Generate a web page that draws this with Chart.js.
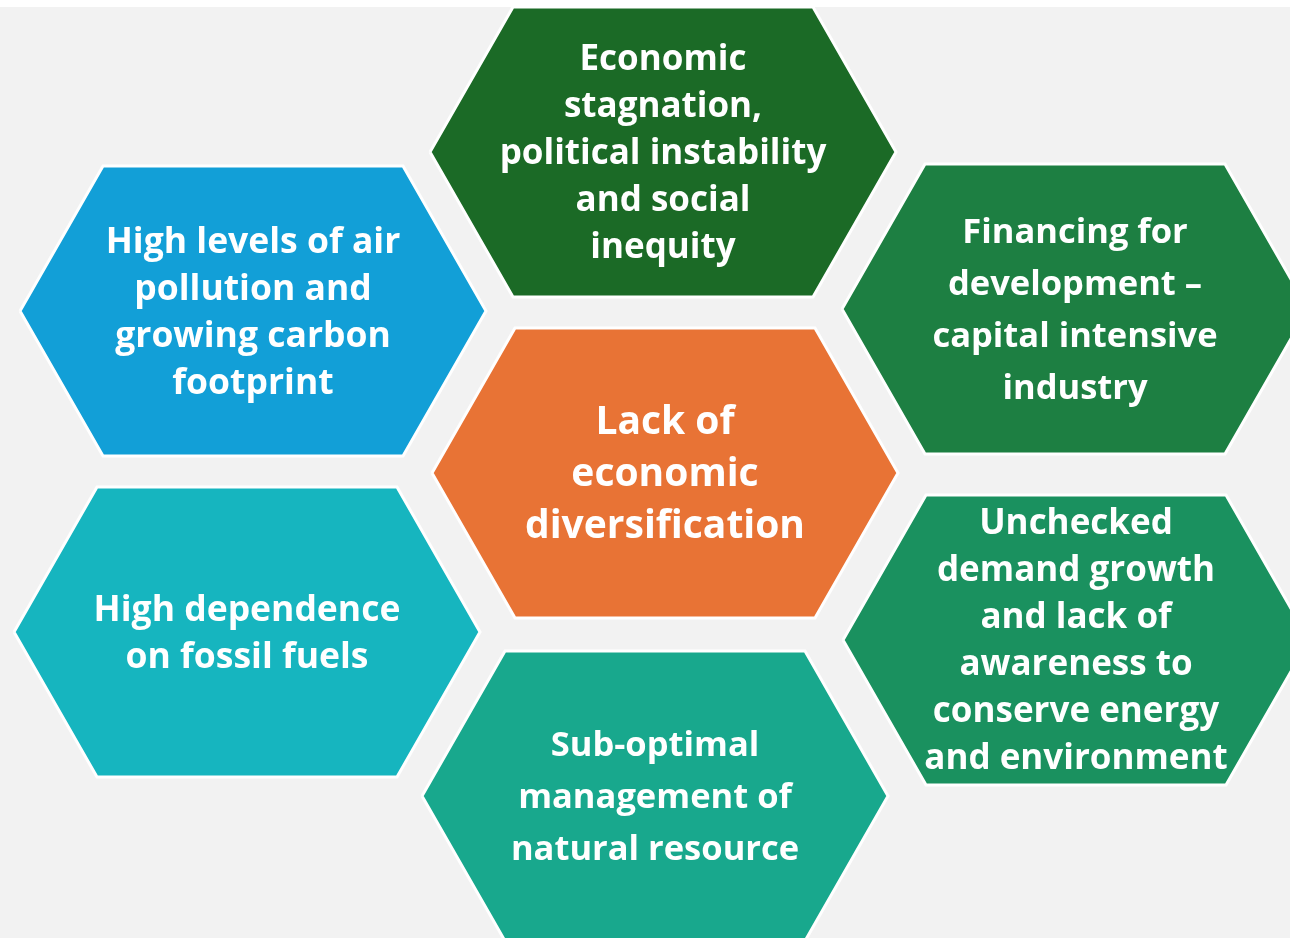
<!DOCTYPE html>
<html>
<head>
<meta charset="utf-8">
<script src="https://cdn.jsdelivr.net/npm/chart.js@4.4.1/dist/chart.umd.min.js"></script>
<style>
  html, body { margin: 0; padding: 0; background: #f2f2f2; }
  #wrap { width: 1290px; height: 938px; }
</style>
</head>
<body>
<div id="wrap"><canvas id="hexChart" width="1290" height="938"></canvas></div>
<script>
// Datos del diagrama: centros de cada hexágono, textos y colores
const hexNames = ['economic', 'air', 'financing', 'center', 'fossil', 'demand', 'resource'];
const hexX = [663, 253, 1075, 665, 247, 1076, 655];
const hexY = [152, 311, 309, 473, 632, 640, 796];
const hexText = [
    ['Economic', 'stagnation,', 'political instability', 'and social', 'inequity'],
    ['High levels of air', 'pollution and', 'growing carbon', 'footprint'],
    ['Financing for', 'development \u2013', 'capital intensive', 'industry'],
    ['Lack of', 'economic', 'diversification'],
    ['High dependence', 'on fossil fuels'],
    ['Unchecked', 'demand growth', 'and lack of', 'awareness to', 'conserve energy', 'and environment'],
    ['Sub-optimal', 'management of', 'natural resource']
];
const hexColors = ['#1b6a26', '#129fd7', '#1d7f42', '#e87335', '#16b5bf', '#1a915f', '#18a88d'];

// Tamaño de la forma (unidades del eje) y estilo del texto
const HALF_W = 233, INNER_W = 150, HALF_H = 145;
const fontSizes = [35, 35.5, 34.5, 39, 35.5, 35, 34.5];
const lineGaps = [47, 47, 52, 52, 47, 47, 52];
const TEXT_SHIFT = 2; // pequeño ajuste vertical del texto en px

function hexPoints(cx, cy) {
    return [
        {x: cx - HALF_W, y: cy},
        {x: cx - INNER_W, y: cy - HALF_H},
        {x: cx + INNER_W, y: cy - HALF_H},
        {x: cx + HALF_W, y: cy},
        {x: cx + INNER_W, y: cy + HALF_H},
        {x: cx - INNER_W, y: cy + HALF_H},
        {x: cx - HALF_W, y: cy}
    ];
}

const datasets = hexNames.map((name, i) => ({
    label: name,
    data: hexPoints(hexX[i], hexY[i]),
    showLine: true,
    fill: 'shape',
    backgroundColor: hexColors[i],
    borderColor: '#ffffff',
    borderWidth: 3,
    pointRadius: 0,
    tension: 0
}));

// Fondo gris con franja blanca arriba
const fondoPlugin = {
    id: 'fondo',
    beforeDraw(chart) {
        const c = chart.ctx;
        c.save();
        c.fillStyle = '#f2f2f2';
        c.fillRect(0, 0, chart.width, chart.height);
        c.fillStyle = '#ffffff';
        c.fillRect(0, 0, chart.width, 7);
        c.restore();
    }
};

// Textos centrados en cada hexágono
const textoPlugin = {
    id: 'texto',
    afterDatasetsDraw(chart) {
        const c = chart.ctx;
        const xs = chart.scales.x, ys = chart.scales.y;
        c.save();
        c.fillStyle = '#ffffff';
        c.textAlign = 'center';
        c.textBaseline = 'middle';
        hexText.forEach((lines, i) => {
            c.font = 'bold ' + fontSizes[i] + 'px "Open Sans"';
            const px = xs.getPixelForValue(hexX[i]);
            const py = ys.getPixelForValue(hexY[i]) + TEXT_SHIFT;
            const top = py - (lines.length - 1) * lineGaps[i] / 2;
            lines.forEach((t, k) => c.fillText(t, px, top + k * lineGaps[i]));
        });
        c.restore();
    }
};

const ctx = document.getElementById('hexChart').getContext('2d');
new Chart(ctx, {
    type: 'scatter',
    data: { datasets: datasets },
    options: {
        responsive: false,
        animation: false,
        layout: { padding: 0 },
        plugins: {
            legend: { display: false },
            tooltip: { enabled: false }
        },
        scales: {
            x: { type: 'linear', min: 0, max: 1290, display: false },
            y: { type: 'linear', min: 0, max: 938, reverse: true, display: false }
        }
    },
    plugins: [fondoPlugin, textoPlugin]
});
</script>
</body>
</html>
